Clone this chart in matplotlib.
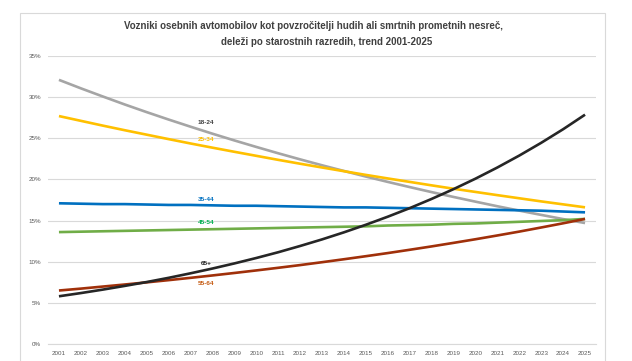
import matplotlib
matplotlib.use("Agg")
import matplotlib.pyplot as plt
from matplotlib.patches import Rectangle

# leta in deleži (v %) po starostnih razredih
years = list(range(2001, 2026))
age_18_24 = [32.1, 31.07, 30.08, 29.11, 28.18, 27.28, 26.41, 25.56, 24.74, 23.95, 23.18, 22.44, 21.72,
             21.03, 20.35, 19.70, 19.07, 18.46, 17.87, 17.30, 16.74, 16.21, 15.69, 15.18, 14.70]
age_25_34 = [27.7, 27.12, 26.54, 25.98, 25.44, 24.90, 24.37, 23.86, 23.36, 22.87, 22.38, 21.91, 21.45,
             21.00, 20.55, 20.12, 19.70, 19.28, 18.87, 18.48, 18.09, 17.71, 17.33, 16.97, 16.61]
age_35_44 = [17.1, 17.05, 17.0, 17.0, 16.95, 16.9, 16.9, 16.85, 16.8, 16.8, 16.75, 16.7, 16.65,
             16.6, 16.6, 16.55, 16.5, 16.45, 16.4, 16.35, 16.3, 16.25, 16.2, 16.1, 16.0]
age_45_54 = [13.6, 13.65, 13.7, 13.75, 13.8, 13.85, 13.9, 13.95, 14.0, 14.05, 14.1, 14.15, 14.2,
             14.25, 14.3, 14.4, 14.45, 14.5, 14.6, 14.65, 14.75, 14.85, 14.95, 15.05, 15.2]
age_55_64 = [6.5, 6.73, 6.98, 7.23, 7.49, 7.76, 8.04, 8.33, 8.63, 8.94, 9.26, 9.59, 9.94,
             10.30, 10.67, 11.05, 11.45, 11.86, 12.29, 12.73, 13.19, 13.66, 14.16, 14.67, 15.20]
age_65 = [5.8, 6.19, 6.61, 7.06, 7.53, 8.04, 8.59, 9.17, 9.79, 10.45, 11.15, 11.91, 12.71,
          13.57, 14.49, 15.47, 16.51, 17.63, 18.82, 20.09, 21.45, 22.90, 24.45, 26.10, 27.87]

series = [
    ("18-24", age_18_24, "#A5A5A5", "#404040", 2007.7, 26.9),
    ("25-34", age_25_34, "#FFC000", "#FFC000", 2007.7, 24.8),
    ("35-44", age_35_44, "#0070C0", "#0070C0", 2007.7, 17.6),
    ("45-54", age_45_54, "#70AD47", "#00B050", 2007.7, 14.8),
    ("55-64", age_55_64, "#A0300A", "#C55A11", 2007.7, 7.3),
    ("65+", age_65, "#262626", "#262626", 2007.7, 9.8),
]

fig = plt.figure(figsize=(6.32, 3.61), dpi=100)
fig.patches.append(Rectangle((20 / 632, -0.01), 585 / 632, 1 - 13 / 361 + 0.01,
                             transform=fig.transFigure, fill=False,
                             edgecolor="#D9D9D9", linewidth=0.8))

ax = fig.add_axes([48 / 632, 1 - 344 / 361, 548 / 632, 288 / 361])
for name, vals, color, tcolor, lx, ly in series:
    ax.plot(years, vals, color=color, linewidth=1.9, solid_capstyle="butt")
    ax.text(lx, ly, name, color=tcolor, fontsize=4.6, fontweight="bold",
            ha="center", va="center", family="Liberation Sans")

ax.set_xlim(2000.5, 2025.5)
ax.set_ylim(0, 35)
ax.set_yticks(range(0, 36, 5))
ax.set_yticklabels([f"{v}%" for v in range(0, 36, 5)])
ax.set_xticks(years)
ax.set_xticklabels([str(y) for y in years])
ax.tick_params(axis="both", length=0, labelsize=4.5, labelcolor="#595959", pad=5)
for lab in ax.get_xticklabels() + ax.get_yticklabels():
    lab.set_family("Liberation Sans")
ax.grid(axis="y", color="#D9D9D9", linewidth=0.8)
ax.set_axisbelow(True)
for side in ["top", "right", "left"]:
    ax.spines[side].set_visible(False)
ax.spines["bottom"].set_color("#D9D9D9")
ax.spines["bottom"].set_linewidth(0.8)

fig.text(313.5 / 632, 1 - 26 / 361,
         "Vozniki osebnih avtomobilov kot povzročitelji hudih ali smrtnih prometnih nesreč,",
         ha="center", va="center", fontsize=7.0, fontweight="bold", color="#404040",
         family=["Liberation Sans Narrow", "Liberation Sans"])
fig.text(327 / 632, 1 - 42 / 361,
         "deleži po starostnih razredih, trend 2001-2025",
         ha="center", va="center", fontsize=7.0, fontweight="bold", color="#404040",
         family=["Liberation Sans Narrow", "Liberation Sans"])

fig.savefig("out.png", dpi=100, facecolor="white")
